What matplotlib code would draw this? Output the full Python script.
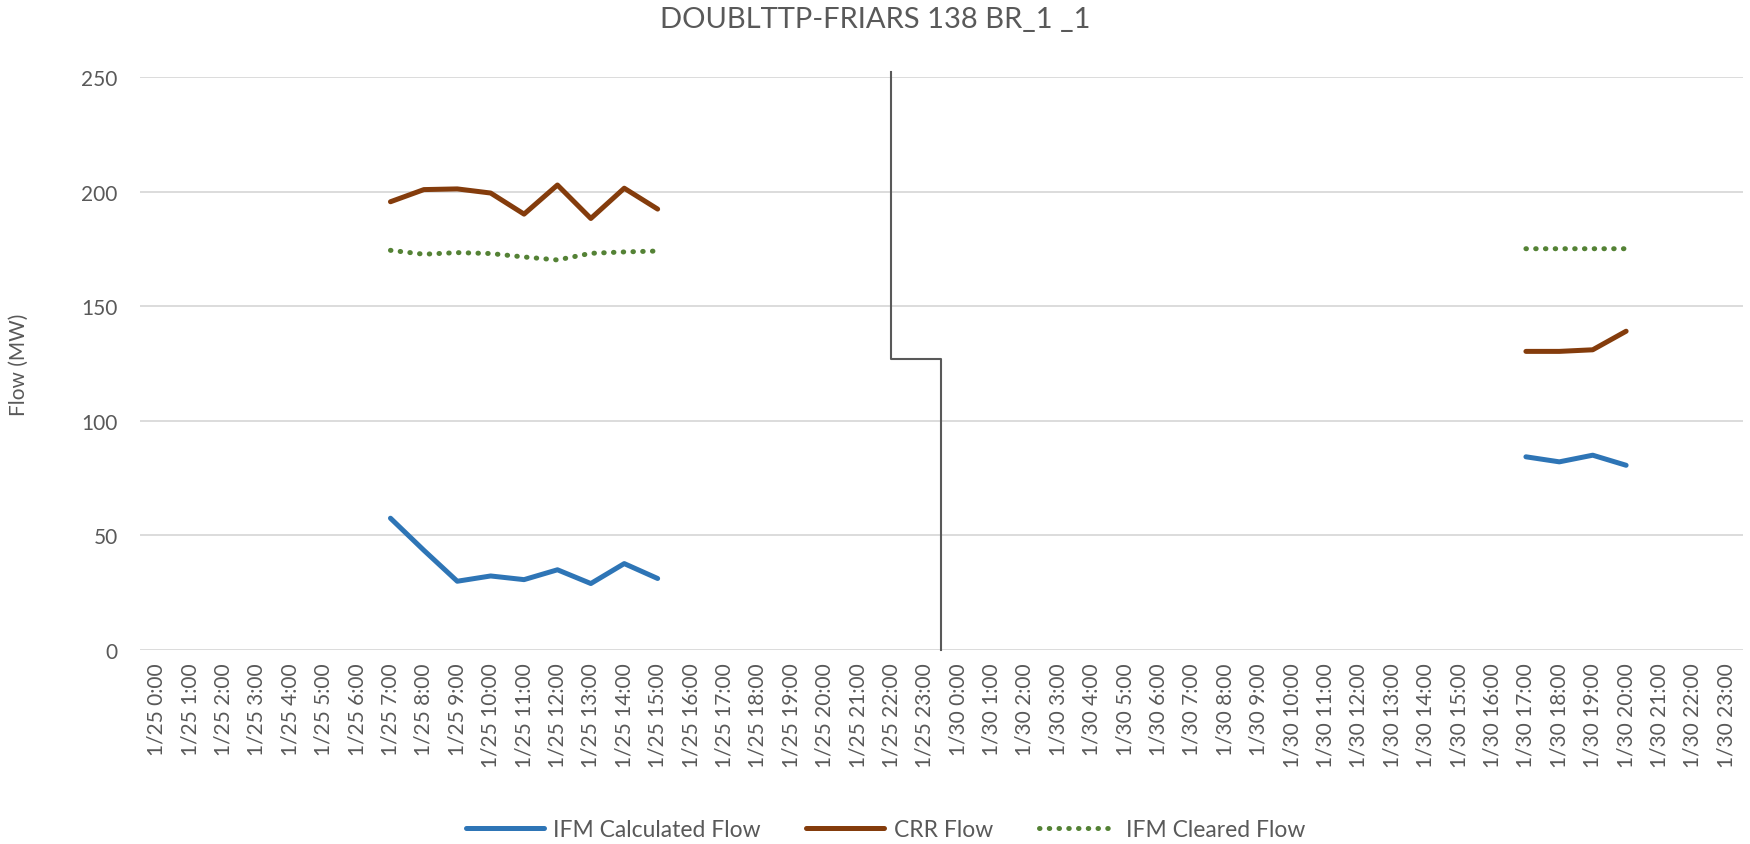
import matplotlib
matplotlib.use("Agg")
import matplotlib.pyplot as plt
import numpy as np

# categories: two days of hourly labels
days = ["1/25", "1/30"]
hours = ["%d:00" % h for h in range(24)]
cats = ["%s %s" % (d, h) for d in days for h in hours]

nan = np.nan

def series(vals_25, start_25, vals_30, start_30):
    out = [nan] * 48
    for i, v in enumerate(vals_25):
        out[start_25 + i] = v
    for i, v in enumerate(vals_30):
        out[24 + start_30 + i] = v
    return out

# values (MW)
ifm_calc_25 = [57.5, 43.5, 30.0, 32.3, 30.7, 35.0, 29.0, 37.7, 31.2]
ifm_calc_30 = [84.3, 82.1, 85.0, 80.6]
crr_25 = [195.6, 200.9, 201.2, 199.4, 190.2, 202.9, 188.3, 201.5, 192.4]
crr_30 = [130.3, 130.3, 131.0, 139.1]
ifm_clr_25 = [174.4, 172.7, 173.4, 173.0, 171.5, 170.2, 173.1, 173.7, 174.1]
ifm_clr_30 = [175.1, 175.1, 175.1, 175.1]

ifm_calc = series(ifm_calc_25, 7, ifm_calc_30, 17)
crr = series(crr_25, 7, crr_30, 17)
ifm_clr = series(ifm_clr_25, 7, ifm_clr_30, 17)

# separator step line (category position, MW)
sep_x = [22, 22, 23.5, 23.5]
sep_y = [252, 127, 127, 0]

txt = "#595959"
plt.rcParams['font.family'] = ['Lato', 'DejaVu Sans']

fig = plt.figure(figsize=(17.5, 8.45), dpi=100)
ax = fig.add_axes([0.08, 0.2296, 0.916, 0.678])

x = np.arange(len(cats))
ax.plot(x, ifm_calc, color="#2E75B6", lw=3.6, solid_capstyle="round", label="IFM Calculated Flow")
ax.plot(x, crr, color="#843C0C", lw=3.6, solid_capstyle="round", label="CRR Flow")
ax.plot(x, ifm_clr, color="#548235", lw=3.6, linestyle=(0, (0.1, 1.85)), dash_capstyle="round",
        label="IFM Cleared Flow")
ax.plot(sep_x, sep_y, color="#595959", lw=1.5, clip_on=False)

ax.set_xlim(-0.5, 47.5)
ax.set_ylim(0, 250)
ax.set_yticks([0, 50, 100, 150, 200, 250])
ax.set_xticks(x)
ax.set_xticklabels(cats, rotation=90, fontsize=15, color=txt)
ax.tick_params(axis="y", labelsize=15, colors=txt, length=0, pad=16)
ax.tick_params(axis="x", length=0, pad=9)
ax.grid(axis="y", color="#D9D9D9", lw=1.3)
ax.set_axisbelow(True)
for s in ax.spines.values():
    s.set_visible(False)

ax.set_ylabel("Flow (MW)", fontsize=15, color=txt, labelpad=38)
fig.text(0.5, 0.976, "DOUBLTTP-FRIARS 138 BR_1 _1", ha="center", va="center", fontsize=21, color=txt)

leg = fig.legend(loc="lower center", bbox_to_anchor=(0.506, -0.02), ncol=3, frameon=False,
                 fontsize=16.5, handlelength=3.4, handletextpad=0.4, columnspacing=2.0)
for t in leg.get_texts():
    t.set_color(txt)

fig.savefig("out.png", dpi=100)
